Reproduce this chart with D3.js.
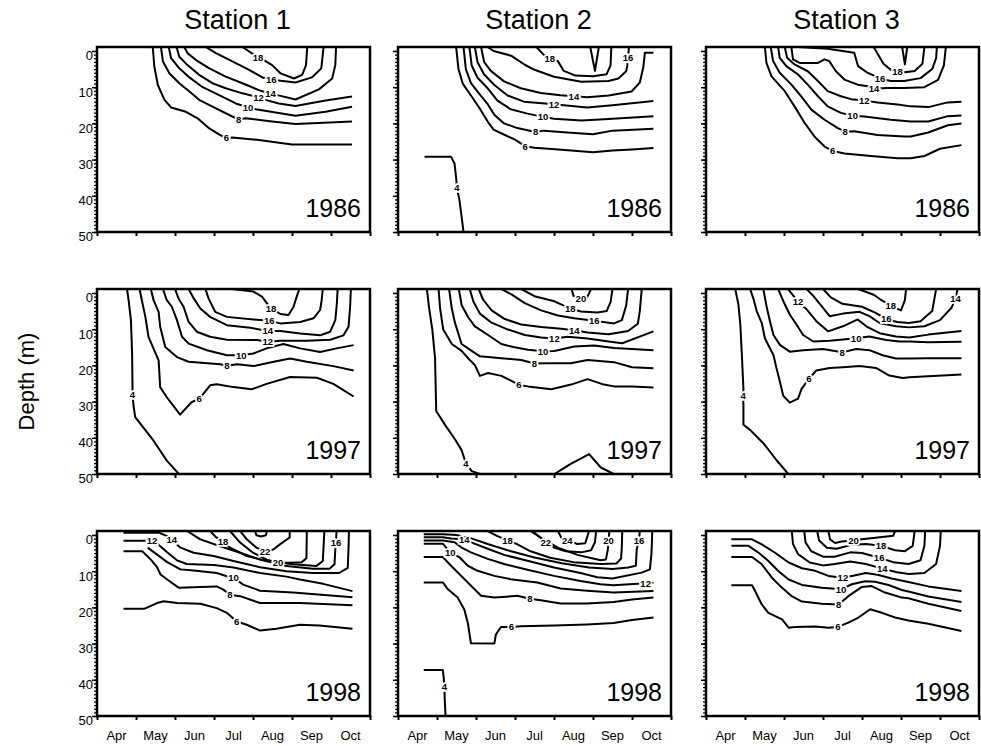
<!DOCTYPE html>
<html>
<head>
<meta charset="utf-8">
<script src="https://cdn.jsdelivr.net/npm/d3@7"></script>
<style>
body { margin: 0; background: #fff; }
text { font-family: Arial, "Liberation Sans", sans-serif; }
</style>
</head>
<body>
<div id="chart-area"></div>
<script>
// labels
var stations = ["Station 1", "Station 2", "Station 3"];
var years = ["1986", "1997", "1998"];
var months = ["Apr", "May", "Jun", "Jul", "Aug", "Sep", "Oct"];
var depthTicks = [0, 10, 20, 30, 40, 50];

// isotherms: v = temperature, p = [month, depth] points, l = label point
// (month 4 = 1 Apr, 11 = 1 Nov)
var s1_1986 = [
  {v: 6, l: [7.32, 24.0], p: [[5.43,-1.1],[5.47,4.3],[5.56,9.4],[5.73,13.5],[5.9,15.6],[6.28,16.8],[6.58,18.6],[6.88,21.4],[7.15,23.2],[7.32,24.1],[7.47,23.9],[8.15,24.6],[9.0,25.8],[10.54,25.8]]},
  {v: 8, l: [7.63, 18.9], p: [[5.64,-1.1],[5.69,2.9],[5.86,6.2],[6.11,8.9],[6.37,11.2],[6.62,13.5],[6.96,15.4],[7.47,18.1],[7.63,18.9],[7.81,18.6],[8.49,19.5],[9.09,20.2],[10.54,19.5]]},
  {v: 10, l: [7.87, 15.6], p: [[5.84,-1.1],[5.9,2.0],[6.11,4.8],[6.37,7.3],[6.71,10.0],[7.13,12.2],[7.56,14.5],[7.87,15.6],[8.07,16.1],[8.58,17.0],[9.09,17.9],[9.86,16.8],[10.54,15.4]]},
  {v: 12, l: [8.14, 12.8], p: [[6.04,-1.1],[6.11,1.6],[6.32,3.9],[6.62,6.6],[6.96,8.9],[7.3,10.3],[7.73,11.7],[8.14,12.8],[8.32,13.5],[8.66,14.5],[9.09,15.2],[9.86,13.7],[10.54,12.6]]},
  {v: 14, l: [8.45, 11.7], p: [[6.24,-1.1],[6.32,0.6],[6.54,2.5],[6.88,4.8],[7.3,7.1],[7.73,8.9],[8.15,10.8],[8.45,11.9],[8.71,12.4],[9.09,13.4],[9.69,10.6],[10.03,7.6],[10.11,3.9],[10.13,-1.1]]},
  {v: 16, l: [8.47, 7.8], p: [[6.79,-1.1],[7.05,0.6],[7.47,2.9],[7.9,5.2],[8.24,7.3],[8.47,7.8],[8.71,8.2],[9.09,8.7],[9.51,7.3],[9.75,4.8],[9.81,-1.1]]},
  {v: 18, l: [8.13, 1.8], p: [[7.73,-1.1],[8.13,1.8],[8.28,2.5],[8.49,3.9],[8.71,6.2],[9.05,7.6],[9.26,6.6],[9.36,3.9],[9.39,-1.1]]}
];
var s2_1986 = [
  {v: 4, l: [5.51, 37.7], p: [[4.68,29.2],[5.36,29.2],[5.45,31.1],[5.49,35.0],[5.51,37.7],[5.57,40.8],[5.63,45.7],[5.68,50]]},
  {v: 6, l: [7.26, 26.3], p: [[5.49,-1.1],[5.55,5],[5.66,9],[5.87,12.3],[6.08,15.6],[6.3,19.5],[6.45,21.7],[6.7,23],[7.0,24.5],[7.26,26.3],[7.5,26.7],[8.2,27.3],[9.0,28],[9.5,27.5],[10.0,27.2],[10.55,26.8]]},
  {v: 8, l: [7.53, 22.4], p: [[5.68,-1.1],[5.74,5],[5.87,8.9],[6.08,11.8],[6.3,14.7],[6.47,17.6],[6.72,20],[7.06,21.3],[7.53,22.4],[7.74,22],[8.34,22.5],[9.0,23],[9.5,22],[10.55,21.5]]},
  {v: 10, l: [7.72, 18.2], p: [[5.83,-1.1],[5.89,4],[6.04,7.4],[6.3,10.3],[6.55,13.7],[6.89,16.1],[7.32,17.3],[7.72,18.2],[8.0,18.7],[8.7,19.2],[9.4,18.8],[10.55,18]]},
  {v: 12, l: [8.0, 14.7], p: [[5.97,-1.1],[6.04,3.1],[6.21,6.5],[6.47,9.4],[6.81,12.3],[7.23,14],[8.0,14.7],[8.25,15],[8.85,15.6],[9.5,15],[10.55,13.8]]},
  {v: 14, l: [8.51, 12.5], p: [[6.13,-1.1],[6.21,3.1],[6.38,5.5],[6.72,8.4],[7.15,10.3],[7.66,11.6],[8.17,12.2],[8.51,12.5],[8.85,12.8],[9.4,12.3],[9.99,11.2],[10.2,8.7],[10.29,4.5],[10.33,0.5],[10.55,0.5]]},
  {v: 16, l: [9.9, 1.9], p: [[6.3,-1.1],[6.45,0],[6.9,1.3],[7.25,3.8],[7.5,5.2],[8.0,7.1],[8.7,8.5],[9.4,8.3],[9.65,7.6],[9.85,5.6],[9.88,4],[9.9,1.9],[9.92,-1.1]]},
  {v: 18, l: [7.89, 2.1], p: [[7.55,-1.1],[7.75,1.2],[7.89,2.1],[8.1,2.8],[8.25,5.5],[8.55,6.8],[9.0,7.0],[9.35,6.4],[9.45,4],[9.47,-1.1]]},
  {v: 20, l: null, p: [[8.93,-1.1],[9.05,5.5],[9.15,-1.1]]}
];
var s3_1986 = [
  {v: 6, l: [7.25, 27.6], p: [[5.51,-1.1],[5.55,3.3],[5.68,7],[6.02,11.1],[6.27,15.3],[6.53,19.9],[6.78,23.6],[7.04,26.4],[7.25,27.6],[7.55,28.3],[8.23,29],[8.91,29.6],[9.25,29.6],[9.6,29],[10.0,27],[10.55,26]]},
  {v: 8, l: [7.57, 22.3], p: [[5.66,-1.1],[5.72,2.8],[5.89,6.0],[6.19,9.3],[6.44,12.5],[6.7,16.2],[7.04,19],[7.38,21.3],[7.57,22.3],[7.8,22.2],[8.4,23.2],[9.08,23.6],[9.25,23.6],[9.7,22.5],[10.2,20.5],[10.55,20]]},
  {v: 10, l: [7.76, 17.9], p: [[5.85,-1.1],[5.89,1.9],[6.06,4.2],[6.36,6.5],[6.61,9.3],[6.87,12.5],[7.12,15.3],[7.46,17.1],[7.76,17.9],[8.06,18.1],[8.74,19],[9.25,19.5],[9.7,19.5],[10.2,18],[10.55,17.8]]},
  {v: 12, l: [8.06, 13.7], p: [[6.02,-1.1],[6.08,1.9],[6.27,3.7],[6.61,5.6],[6.87,8.3],[7.12,11.1],[7.46,12.5],[7.72,13.3],[8.06,13.7],[8.4,14.2],[8.91,14.8],[9.25,15.3],[9.7,15.5],[10.2,14.2],[10.55,14]]},
  {v: 14, l: [8.31, 10.4], p: [[6.19,-1.1],[6.23,2.3],[6.4,3.3],[6.87,3.3],[7.04,2.3],[7.16,2.8],[7.33,5.6],[7.55,7.9],[7.89,9.3],[8.23,9.9],[8.31,10.4],[8.65,10.2],[9.08,10.2],[9.6,10],[9.95,8],[10.1,4],[10.15,-1.1]]},
  {v: 16, l: [8.46, 7.6], p: [[6.36,-1.1],[7.12,-0.6],[7.8,0.5],[7.9,4.2],[8.14,6.0],[8.46,7.6],[8.74,8.3],[9.08,8.3],[9.5,7.5],[9.8,5],[9.9,2],[9.92,-1.1]]},
  {v: 18, l: [8.91, 5.8], p: [[8.3,-1.1],[8.55,3.5],[8.75,5.3],[8.91,5.8],[9.1,5.9],[9.35,5.5],[9.55,3.5],[9.6,-1.1]]},
  {v: 20, l: null, p: [[9.03,-1.1],[9.1,3.7],[9.16,-1.1]]}
];
var s1_1997 = [
  {v: 4, l: [4.91, 28], p: [[4.77,-1.1],[4.81,2.0],[4.87,7.5],[4.9,16.7],[4.91,26],[4.91,28],[4.94,31.5],[4.98,34.3],[5.45,40.8],[5.79,46.3],[6.1,50]]},
  {v: 6, l: [6.62, 29.3], p: [[5.09,-1.1],[5.15,2],[5.24,6.6],[5.32,12.1],[5.58,18.6],[5.62,26],[5.79,28.8],[6.13,33.6],[6.43,30.1],[6.62,29.3],[6.9,25.5],[7.07,25.2],[7.5,26],[7.97,26.6],[8.35,25.1],[8.95,23.2],[9.64,23.4],[10.06,25.1],[10.58,28.6]]},
  {v: 8, l: [7.33, 20.1], p: [[5.38,-1.1],[5.45,2],[5.58,5.2],[5.62,9.3],[5.75,14.9],[6.05,17.7],[6.35,19.0],[7.16,19.7],[7.33,20.1],[7.59,19.7],[8.01,20.2],[8.53,19.0],[8.95,18.1],[9.38,19.0],[10.06,20.2],[10.58,21.4]]},
  {v: 10, l: [7.7, 17.2], p: [[5.69,-1.1],[5.79,2],[5.92,3.8],[6.05,7.5],[6.18,12.1],[6.35,14],[6.82,15.8],[7.33,17.2],[7.7,17.2],[8.01,16.7],[8.35,15.3],[8.78,14.1],[9.21,15.3],[9.72,16.3],[10.14,15.3],[10.58,14.4]]},
  {v: 12, l: [8.38, 13.5], p: [[6.0,-1.1],[6.09,1.5],[6.22,3.8],[6.35,8.0],[6.56,10.7],[6.9,12.1],[7.33,12.9],[8.1,13.0],[8.38,13.5],[8.7,13.2],[9.38,13.2],[9.98,12.9],[10.32,11.7],[10.45,9.3],[10.49,3.8],[10.51,-1.1]]},
  {v: 14, l: [8.38, 10.5], p: [[6.35,-1.1],[6.48,1.5],[6.65,4.3],[6.9,6.6],[7.33,8.9],[7.93,9.6],[8.38,10.5],[8.7,10.5],[9.21,11.2],[9.72,11.7],[9.98,10.7],[10.11,7.5],[10.15,2.9],[10.17,-1.1]]},
  {v: 16, l: [8.42, 7.7], p: [[6.78,-1.1],[6.86,1.5],[7.03,5.2],[7.33,6.6],[8.01,7.3],[8.42,7.7],[8.7,8.4],[9.21,8.0],[9.55,7.0],[9.72,4.7],[9.76,2],[9.79,-1.1]]},
  {v: 18, l: [8.46, 4.3], p: [[7.45,-1.1],[8.01,-0.4],[8.23,1.0],[8.46,4.3],[8.7,5.8],[8.91,6.1],[9.04,3.8],[9.12,1.0],[9.19,-1.1]]}
];
var s2_1997 = [
  {v: 4, l: [5.74, 47.0], p: [[4.74,-1.1],[4.8,4.3],[4.88,10.1],[4.95,18],[4.98,32.6],[5.21,36.5],[5.46,40.4],[5.63,43.4],[5.74,47.0],[5.89,49.2],[6.1,50]]},
  {v: 4, l: null, p: [[8.01,50],[8.43,47.2],[8.9,44.5],[9.2,48.2],[9.53,50]]},
  {v: 6, l: [7.1, 25.4], p: [[5.04,-1.1],[5.08,4.3],[5.16,10.1],[5.38,14.1],[5.63,16.0],[5.84,18.5],[5.97,19.9],[6.1,22.9],[6.31,22.1],[6.65,22.9],[6.91,24.3],[7.1,25.4],[7.33,25.8],[7.93,26.6],[8.44,25.3],[8.86,23.8],[9.28,25.3],[9.54,25.8],[10.0,25.8],[10.55,26.1]]},
  {v: 8, l: [7.5, 19.5], p: [[5.31,-1.1],[5.38,4.3],[5.46,8.2],[5.63,14.1],[5.89,16.0],[6.1,17.5],[6.65,18],[7.16,18.5],[7.5,19.5],[7.84,19.4],[8.43,19.4],[8.86,18.5],[9.54,19.1],[10.0,20.5],[10.55,20.8]]},
  {v: 10, l: [7.72, 16.1], p: [[5.56,-1.1],[5.63,3.3],[5.8,6.7],[5.97,9.2],[6.31,11.6],[6.65,14.1],[6.99,15.0],[7.33,15.7],[7.72,16.1],[8.01,16.0],[8.52,14.8],[9.03,14.5],[9.54,15.2],[10.0,15.5],[10.55,15.8]]},
  {v: 12, l: [8.01, 12.6], p: [[5.84,-1.1],[5.93,2.3],[6.1,5.7],[6.4,8.2],[6.82,10.1],[7.25,11.6],[7.67,12.3],[8.01,12.6],[8.35,12.1],[8.86,12.6],[9.4,13.4],[9.75,13.9],[10.55,10.6]]},
  {v: 14, l: [8.52, 10.3], p: [[6.07,-1.1],[6.18,1.8],[6.4,4.8],[6.74,7.2],[7.16,8.7],[7.67,9.4],[8.18,9.9],[8.52,10.3],[8.86,10.9],[9.4,11.4],[9.9,10.5],[10.15,8.5],[10.2,5],[10.25,-1.1]]},
  {v: 16, l: [9.03, 7.7], p: [[6.65,-1.1],[6.91,0.4],[7.25,2.8],[7.67,4.8],[8.1,6.2],[8.52,7.0],[9.03,7.7],[9.54,8.4],[9.74,7.5],[9.85,3.5],[9.9,-1.1]]},
  {v: 18, l: [8.42, 4.3], p: [[7.16,-1.1],[7.5,0.9],[8.01,2.3],[8.42,4.3],[8.69,5.1],[9.11,5.4],[9.35,5.0],[9.45,2.5],[9.5,-1.1]]},
  {v: 20, l: [8.69, 1.6], p: [[8.45,-1.1],[8.5,0.8],[8.69,1.6],[8.85,1.2],[8.95,-1.1]]}
];
var s3_1997 = [
  {v: 4, l: [4.95, 28.4], p: [[4.75,-1.1],[4.83,3.1],[4.88,8.7],[4.92,17.2],[4.96,26.5],[4.95,28.4],[4.96,31.2],[4.96,36.4],[5.13,37.8],[5.47,41.5],[5.81,46.2],[6.11,50]]},
  {v: 6, l: [6.64, 23.7], p: [[5.13,-1.1],[5.22,1.7],[5.3,5.0],[5.43,8.3],[5.51,12.5],[5.73,17.2],[5.81,20.9],[5.9,24.7],[5.98,28.4],[6.15,30.3],[6.36,29.2],[6.45,26.5],[6.64,23.7],[6.83,21.4],[7.17,20.7],[7.51,20.5],[7.94,20.2],[8.36,20.7],[8.7,22.8],[9.04,23.5],[9.21,23.3],[9.7,23],[10.55,22.5]]},
  {v: 8, l: [7.49, 16.4], p: [[5.47,-1.1],[5.56,4.1],[5.64,7.8],[5.73,11.6],[5.9,14.4],[6.15,16.2],[6.49,15.8],[7.0,15.5],[7.49,16.4],[7.85,15.5],[8.19,15.8],[8.53,17.2],[8.87,18.1],[9.21,18.1],[9.7,18],[10.55,18]]},
  {v: 10, l: [7.85, 12.5], p: [[5.85,-1.1],[5.98,2.2],[6.15,6.0],[6.32,8.7],[6.49,11.6],[6.75,13.4],[7.17,13.2],[7.85,12.5],[8.19,12.0],[8.62,13.0],[8.96,13.4],[9.21,13.4],[9.7,13.6],[10.55,13.5]]},
  {v: 12, l: [6.36, 2.4], p: [[6.1,-1.1],[6.36,2.4],[6.58,4.5],[6.83,7.8],[7.13,10.6],[7.51,9.2],[7.89,7.3],[8.11,9.2],[8.45,11.1],[8.87,12.0],[9.21,12.3],[9.7,11.5],[10.55,10.5]]},
  {v: 14, l: [10.4, 1.5], p: [[6.58,-1.1],[6.75,0.8],[7.0,4.1],[7.17,6.4],[7.51,5.7],[7.94,5.2],[8.19,6.4],[8.45,8.3],[8.87,9.2],[9.21,9.5],[9.6,9.2],[10.0,7.5],[10.3,4],[10.4,1.5],[10.45,-1.1]]},
  {v: 16, l: [8.62, 7.2], p: [[7.0,-1.1],[7.2,1.2],[7.5,3.0],[8.0,3.8],[8.35,5.5],[8.62,7.2],[8.9,8.0],[9.2,8.3],[9.5,7.8],[9.8,5],[9.9,-1.1]]},
  {v: 18, l: [8.74, 3.6], p: [[7.9,-1.1],[8.3,0.5],[8.5,2.0],[8.74,3.6],[9.0,4.8],[9.1,2],[9.13,-1.1]]}
];
var s1_1998 = [
  {v: 6, l: [7.58, 23.9], p: [[4.68,20.4],[5.21,20.4],[5.54,18.8],[5.71,18.3],[6.05,18.8],[6.65,19.0],[7.07,20.2],[7.33,21.5],[7.58,23.9],[7.84,24.8],[8.18,26.4],[8.6,25.9],[9.2,24.8],[9.7,25.0],[10.55,25.9]]},
  {v: 8, l: [7.41, 16.5], p: [[4.68,4.5],[5.16,4.5],[5.38,6.8],[5.54,8.9],[5.63,10.9],[5.8,12.3],[6.1,14.6],[6.65,14.4],[7.07,14.2],[7.24,15.1],[7.41,16.5],[7.67,16.9],[8.18,18.8],[9.2,18.8],[10.55,19.4]]},
  {v: 10, l: [7.5, 11.8], p: [[5.3,3.5],[5.55,5.5],[5.8,7.5],[6.14,9.5],[6.48,9.8],[7.07,10.5],[7.33,11.4],[7.5,11.8],[7.75,13.7],[8.18,15.4],[9.03,15.9],[10.55,17.2]]},
  {v: 12, l: [5.41, 1.5], p: [[4.68,1.6],[5.16,1.6],[5.41,1.5],[5.55,2.4],[5.79,4.7],[6.05,7.0],[6.3,8.0],[7.0,8.3],[7.5,9.0],[8.18,10.5],[8.86,11.5],[9.2,12.3],[9.8,13.5],[10.55,15.5]]},
  {v: 14, l: [5.92, 1.3], p: [[4.68,-0.6],[5.16,-0.6],[5.6,-0.6],[5.8,0.3],[5.92,1.3],[6.14,3.5],[6.48,4.9],[6.99,5.8],[7.5,7.2],[8.18,8.9],[8.86,10.0],[9.53,10.5],[10.21,10.5],[10.43,9.1],[10.45,3.5],[10.46,-1.1]]},
  {v: 16, l: [10.13, 2.1], p: [[6.31,-1.1],[6.65,1.2],[7.16,3.1],[7.67,4.9],[8.18,6.8],[8.86,8.6],[9.53,9.3],[9.96,9.3],[10.09,8.1],[10.11,4.0],[10.13,2.1],[10.14,-1.1]]},
  {v: 18, l: [7.23, 1.9], p: [[6.9,-1.1],[7.05,0.6],[7.23,1.9],[7.41,3.5],[7.84,5.8],[8.35,7.2],[9.03,8.1],[9.62,8.6],[9.79,7.2],[9.83,-1.1]]},
  {v: 20, l: [8.64, 7.6], p: [[7.41,-1.1],[7.67,2.1],[8.0,4.9],[8.35,6.8],[8.64,7.6],[8.94,7.7],[9.25,7.5],[9.37,6.4],[9.38,-1.1]]},
  {v: 22, l: [8.31, 4.6], p: [[7.67,-1.1],[7.84,1.2],[8.09,3.5],[8.31,4.6],[8.52,4.0],[8.69,2.6],[8.94,0.7],[8.94,-1.1]]},
  {v: 24, l: null, p: [[8.05,-1.1],[8.09,0.1],[8.2,0.4],[8.33,0.1],[8.36,-1.1]]}
];
var s2_1998 = [
  {v: 4, l: [5.19, 42], p: [[4.66,37.3],[5.15,37.3],[5.17,39.2],[5.19,42],[5.2,46],[5.22,50]]},
  {v: 6, l: [6.91, 25.4], p: [[4.66,13.1],[5.15,13.1],[5.28,15.0],[5.53,17.3],[5.7,20.6],[5.79,24.3],[5.87,29.9],[6.47,30.0],[6.51,27.5],[6.64,25.4],[6.91,25.4],[7.15,25.2],[8.0,25.0],[8.85,24.7],[9.53,24.3],[10.0,23.5],[10.55,22.8]]},
  {v: 8, l: [7.38, 17.6], p: [[4.66,6.1],[5.15,6.1],[5.36,8.5],[5.62,11.3],[5.87,14.0],[6.13,16.8],[6.47,17.3],[7.06,16.8],[7.38,17.6],[7.66,18.0],[8.17,18.9],[8.85,18.9],[9.53,18.5],[10.0,17.8],[10.55,17.3]]},
  {v: 10, l: [5.34, 4.9], p: [[4.66,2.4],[5.15,2.4],[5.34,4.9],[5.57,6.1],[5.79,8.5],[6.04,9.9],[6.47,11.3],[6.89,12.2],[7.57,13.1],[8.17,14.8],[8.85,15.4],[9.53,15.9],[10.55,15.5]]},
  {v: 12, l: [10.35, 13.3], p: [[4.66,1.5],[5.15,1.5],[5.45,2.0],[5.62,3.4],[5.87,4.8],[6.3,6.6],[6.72,8.0],[7.32,9.6],[8.0,11.3],[8.68,12.7],[9.19,13.6],[9.53,13.9],[10.35,13.3],[10.55,13.2]]},
  {v: 14, l: [5.7, 1.2], p: [[4.66,0.6],[5.15,0.6],[5.36,1.0],[5.7,1.2],[5.96,2.4],[6.3,3.8],[6.72,5.5],[7.32,7.1],[8.0,9.0],[8.68,10.5],[9.11,11.7],[9.5,12.0],[10.25,10.4],[10.46,9.5],[10.5,5],[10.52,-1.1]]},
  {v: 16, l: [10.18, 1.5], p: [[4.66,-0.2],[5.15,-0.2],[5.5,0],[5.9,1],[6.3,2.5],[6.9,4.5],[7.5,6.2],[8.2,7.8],[8.9,9.0],[9.5,9.4],[9.9,9],[10.1,8.5],[10.12,4],[10.18,1.5],[10.2,-1.1]]},
  {v: 18, l: [6.81, 1.5], p: [[6.3,-1.1],[6.55,0.3],[6.81,1.5],[7.05,2.5],[7.4,4.5],[7.9,6.3],[8.5,7.5],[9.2,8.0],[9.6,7.9],[9.72,6.5],[9.74,3],[9.75,-1.1]]},
  {v: 20, l: [9.4, 1.5], p: [[7.4,-1.1],[7.7,1.0],[8.1,3.5],[8.6,5.5],[9.0,6.5],[9.2,7.0],[9.33,6.8],[9.38,4],[9.4,1.5],[9.42,-1.1]]},
  {v: 22, l: [7.79, 2.0], p: [[7.45,-1.1],[7.62,0.5],[7.79,2.0],[8.0,3.5],[8.3,4.5],[8.7,4.8],[8.95,4.2],[9.05,2],[9.08,-1.1]]},
  {v: 24, l: [8.34, 1.5], p: [[8.1,-1.1],[8.2,1.0],[8.34,1.5],[8.6,2.5],[8.8,2.3],[8.9,-1.1]]}
];
var s3_1998 = [
  {v: 6, l: [7.38, 25.4], p: [[4.65,13.9],[5.18,13.9],[5.26,15.5],[5.43,19.2],[5.6,21.5],[5.95,23.3],[6.12,25.6],[6.29,25.4],[6.8,25.3],[7.14,25.6],[7.38,25.4],[7.65,24.2],[7.91,22.8],[8.21,20.5],[8.51,21.5],[8.85,22.8],[9.19,23.6],[9.7,24.5],[10.55,26.5]]},
  {v: 8, l: [7.4, 19.2], p: [[4.65,6.1],[5.18,6.1],[5.43,8.1],[5.69,11.8],[5.95,14.6],[6.2,16.9],[6.46,18.4],[6.97,19.0],[7.4,19.2],[7.65,16.9],[7.99,14.4],[8.25,14.1],[8.59,15.9],[9.02,17.3],[9.19,17.5],[9.7,19],[10.55,21]]},
  {v: 10, l: [7.46, 15.0], p: [[4.65,3.0],[5.09,3.0],[5.35,4.9],[5.6,7.2],[5.86,10.0],[6.12,12.3],[6.46,13.8],[6.97,14.6],[7.46,15.0],[7.74,13.6],[8.08,12.8],[8.33,12.9],[8.68,13.8],[9.02,15.2],[9.19,15.6],[9.7,17],[10.55,18.5]]},
  {v: 12, l: [7.51, 11.8], p: [[4.65,1.2],[5.18,1.2],[5.43,2.6],[5.77,4.9],[6.12,7.6],[6.46,9.2],[6.8,9.9],[7.14,11.3],[7.51,11.8],[7.8,11.2],[8.1,10.5],[8.4,11.0],[8.76,12.0],[9.19,13.0],[9.7,14.2],[10.55,15.5]]},
  {v: 14, l: [8.52, 9.3], p: [[6.2,-1.1],[6.23,2.5],[6.36,5.3],[6.66,7.6],[7.0,8.4],[7.3,8.0],[7.7,7.3],[8.1,8.0],[8.52,9.3],[8.9,10.3],[9.2,10.8],[9.6,10.5],[9.9,8],[10.0,3],[10.02,-1.1]]},
  {v: 16, l: [8.44, 6.3], p: [[6.52,-1.1],[6.55,2],[6.7,4.5],[7.0,6.0],[7.3,6.0],[7.7,4.8],[8.0,5.0],[8.44,6.3],[8.8,7.5],[9.2,8.0],[9.5,7.0],[9.6,3],[9.62,-1.1]]},
  {v: 18, l: [8.49, 3.0], p: [[6.85,-1.1],[6.9,1.5],[7.1,3.5],[7.35,3.8],[7.7,2.8],[8.1,2.5],[8.49,3.0],[8.85,4.2],[9.1,4.5],[9.3,3],[9.35,-1.1]]},
  {v: 20, l: [7.78, 1.5], p: [[7.14,-1.1],[7.18,1.2],[7.31,2.2],[7.48,1.8],[7.78,1.5],[8.0,1.2],[8.8,0.2],[8.85,-1.1]]}
];

var panels = [
  [s1_1986, s2_1986, s3_1986],
  [s1_1997, s2_1997, s3_1997],
  [s1_1998, s2_1998, s3_1998]
];

var svgW = 981, svgH = 746;
var colLeft = [97, 398, 706], rowTop = [47, 289, 531];
var pw = 273, ph = 185;

var svg = d3.select("#chart-area")
    .append("svg")
    .attr("width", svgW)
    .attr("height", svgH);

// Scales
var x = d3.scaleLinear().domain([4, 11]).range([0, pw]);
var y = d3.scaleLinear().domain([-1.1, 50]).range([0, ph]);

var line = d3.line()
    .x(function(d) { return x(d[0]); })
    .y(function(d) { return y(d[1]); });

// station titles
svg.selectAll("text.title")
    .data(stations)
    .enter().append("text")
    .attr("class", "title")
    .attr("x", function(d, i) { return colLeft[i] + pw / 2 + 4; })
    .attr("y", 29)
    .attr("text-anchor", "middle")
    .attr("font-size", "27px")
    .text(function(d) { return d; });

// y label
svg.append("text")
    .attr("transform", "translate(34," + (rowTop[1] + ph / 2) + ") rotate(-90)")
    .attr("text-anchor", "middle")
    .attr("font-size", "22px")
    .text("Depth (m)");

panels.forEach(function(row, r) {
    row.forEach(function(data, c) {
        var g = svg.append("g")
            .attr("transform", "translate(" + colLeft[c] + "," + rowTop[r] + ")");

        var clipId = "clip-" + r + "-" + c;
        g.append("clipPath").attr("id", clipId)
            .append("rect").attr("width", pw).attr("height", ph);

        var cg = g.append("g").attr("clip-path", "url(#" + clipId + ")");

        cg.selectAll("path")
            .data(data)
            .enter().append("path")
            .attr("d", function(d) { return line(d.p); })
            .attr("fill", "none")
            .attr("stroke", "#000")
            .attr("stroke-width", 2)
            .attr("stroke-linejoin", "round");

        cg.selectAll("text")
            .data(data.filter(function(d) { return d.l; }))
            .enter().append("text")
            .attr("x", function(d) { return x(d.l[0]); })
            .attr("y", function(d) { return y(d.l[1]); })
            .attr("dy", "0.36em")
            .attr("text-anchor", "middle")
            .attr("font-size", "9.5px")
            .attr("font-weight", "bold")
            .attr("stroke", "#fff")
            .attr("stroke-width", 3.5)
            .attr("paint-order", "stroke")
            .text(function(d) { return d.v; });

        // year
        g.append("text")
            .attr("x", pw - 9)
            .attr("y", ph - 15)
            .attr("text-anchor", "end")
            .attr("font-size", "25px")
            .text(years[r]);

        // minor depth ticks
        var minor = g.append("g")
            .call(d3.axisLeft(y).tickValues(d3.range(0, 51, 1)).tickSize(3).tickFormat(""));
        minor.select(".domain").remove();
        minor.selectAll("line").attr("stroke-width", 1.2);

        // major depth ticks
        var major = g.append("g")
            .call(d3.axisLeft(y).tickValues(depthTicks).tickSize(5)
                .tickFormat(function(d) { return c === 0 ? d : ""; }));
        major.select(".domain").remove();
        major.selectAll("line").attr("stroke-width", 1.5);
        major.selectAll("text")
            .attr("font-size", "13px")
            .attr("font-family", "Arial, 'Liberation Sans', sans-serif")
            .attr("dy", "0.68em")
            .attr("x", -4);

        // month ticks
        var bottom = g.append("g")
            .attr("transform", "translate(0," + ph + ")")
            .call(d3.axisBottom(x).tickValues(d3.range(4, 12)).tickSize(4).tickFormat(""));
        bottom.select(".domain").remove();
        bottom.selectAll("line").attr("stroke-width", 2);

        if (r === 2) {
            g.selectAll("text.month")
                .data(months)
                .enter().append("text")
                .attr("class", "month")
                .attr("x", function(d, i) { return x(4.5 + i); })
                .attr("y", ph + 24)
                .attr("text-anchor", "middle")
                .attr("font-size", "13px")
                .text(function(d) { return d; });
        }

        // frame
        g.append("rect")
            .attr("width", pw)
            .attr("height", ph)
            .attr("fill", "none")
            .attr("stroke", "#000")
            .attr("stroke-width", 2.5);
    });
});
</script>
</body>
</html>
